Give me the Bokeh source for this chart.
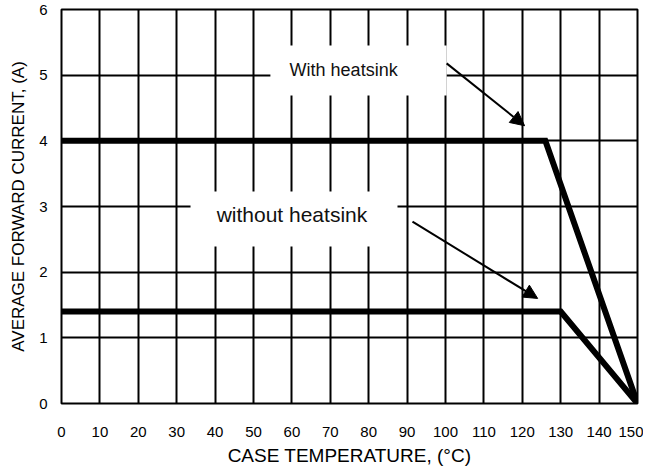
from bokeh.plotting import figure
from bokeh.models import Range1d, FixedTicker, Arrow, NormalHead
from bokeh.embed import file_html
from bokeh.resources import INLINE
from bokeh.core.properties import value

# ---- data ----
x_ticks = list(range(0, 151, 10))
y_ticks = [0, 1, 2, 3, 4, 5, 6]
temp_with = [0, 126, 150]
current_with = [4, 4, 0]
temp_without = [0, 130, 150]
current_without = [1.4, 1.4, 0]

FONT = "Liberation Sans"

p = figure(frame_width=576, frame_height=394,
           x_range=Range1d(0, 150), y_range=Range1d(0, 6),
           output_backend="svg", toolbar_location=None,
           min_border_left=61, min_border_right=6,
           min_border_top=9, min_border_bottom=60)

p.background_fill_color = "white"
p.border_fill_color = "white"
p.outline_line_color = "black"
p.outline_line_width = 2

p.xaxis.ticker = FixedTicker(ticks=x_ticks)
p.yaxis.ticker = FixedTicker(ticks=y_ticks)
p.xgrid.ticker = FixedTicker(ticks=x_ticks)
p.ygrid.ticker = FixedTicker(ticks=y_ticks)
for g in (p.xgrid, p.ygrid):
    g.grid_line_color = "black"
    g.grid_line_width = 2
    g.grid_line_alpha = 1.0

for ax in (p.xaxis, p.yaxis):
    ax.axis_line_color = None
    ax.major_tick_line_color = None
    ax.minor_tick_line_color = None
    ax.major_label_text_font = FONT
    ax.major_label_text_font_size = "15px"
    ax.major_label_text_color = "black"
    ax.axis_label_text_font = FONT
    ax.axis_label_text_font_style = "normal"
    ax.axis_label_text_color = "black"

p.xaxis.axis_label = "CASE TEMPERATURE, (°C)"
p.yaxis.axis_label = "AVERAGE FORWARD CURRENT, (A)"
p.xaxis.axis_label_text_font_size = "19px"
p.yaxis.axis_label_text_font_size = "17px"
p.xaxis.major_label_standoff = 17
p.xaxis.axis_label_standoff = 5
p.yaxis.major_label_standoff = 8
p.yaxis.axis_label_standoff = 8

# white label boxes
p.quad(left=[54.4, 33.6], right=[100.3, 87.5], bottom=[4.69, 2.39], top=[5.45, 3.23],
       fill_color="white", line_color=None)

p.text(x=[59.4], y=[5.08], text=["With heatsink"], text_font=value(FONT),
       text_font_size="18px", text_baseline="middle", text_align="left", text_color="#111111")
p.text(x=[40.4], y=[2.885], text=["without heatsink"], text_font=value(FONT),
       text_font_size="21px", text_baseline="middle", text_align="left", text_color="#111111")

# curves
p.line(temp_with, current_with, line_color="black", line_width=6, line_join="miter")
p.line(temp_without, current_without, line_color="black", line_width=6, line_join="miter")

# arrows
p.add_layout(Arrow(end=NormalHead(size=14, fill_color="black", line_color="black"),
                   x_start=100.3, y_start=5.18, x_end=120.6, y_end=4.23,
                   line_color="black", line_width=2))
p.add_layout(Arrow(end=NormalHead(size=14, fill_color="black", line_color="black"),
                   x_start=91.4, y_start=2.77, x_end=124.0, y_end=1.6,
                   line_color="black", line_width=2))

open("out.html", "w").write(file_html(p, INLINE))
